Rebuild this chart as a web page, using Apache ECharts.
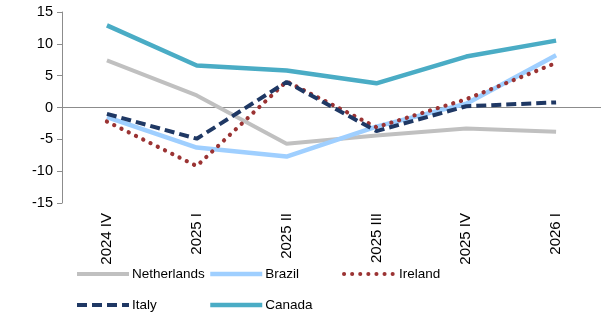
<!DOCTYPE html>
<html>
<head>
<meta charset="utf-8">
<script src="https://cdn.jsdelivr.net/npm/echarts@6/dist/echarts.min.js"></script>
<style>
  html, body { margin: 0; padding: 0; background: #fff; }
  #chart { width: 607px; height: 317px; }
</style>
</head>
<body>
<div id="chart"></div>
<script>
const quarters = ['2024 IV', '2025 I', '2025 II', '2025 III', '2025 IV', '2026 I']
const netherlands = [7.4, 1.9, -5.7, -4.4, -3.3, -3.8]
const brazil = [-1.5, -6.3, -7.7, -3.0, 0.6, 8.2]
const ireland = [-2.2, -9.2, 4.1, -3.1, 1.3, 7.0]
const italy = [-1.0, -4.9, 4.0, -3.7, 0.2, 0.8]
const canada = [12.9, 6.6, 5.8, 3.8, 8.0, 10.5]

const font = 'Liberation Sans, Arial, sans-serif'

const chart = echarts.init(document.getElementById('chart'))

// one legend per item so the columns line up like the original
const legendAt = (name, left, top, lineStyle) => ({
  data: [name],
  left: left,
  top: top,
  itemWidth: 52,
  itemHeight: 10,
  padding: 0,
  itemStyle: { opacity: 0 },
  lineStyle: lineStyle,
  textStyle: { fontFamily: font, fontSize: 13.5, color: '#000', padding: [0, 0, 0, -2] }
})

const line = (name, data, color, width, type, cap) => ({
  name: name,
  type: 'line',
  data: data,
  symbol: 'none',
  smooth: false,
  lineStyle: { color: color, width: width, type: type || 'solid', cap: cap || 'butt' },
  itemStyle: { color: color },
  z: 3
})

const option = {
  animation: false,
  grid: { left: 62, right: 6, top: 12, bottom: 114 },
  legend: [
    legendAt('Netherlands', 75, 267, { width: 4 }),
    legendAt('Brazil', 208, 267, { width: 4.5 }),
    legendAt('Ireland', 342, 267, { width: 4 }),
    legendAt('Italy', 75, 298, { width: 4 }),
    legendAt('Canada', 208, 298, { width: 4.5 })
  ],
  xAxis: {
    type: 'category',
    data: quarters,
    boundaryGap: true,
    axisLine: { show: false },
    axisTick: { show: false },
    axisLabel: {
      rotate: 90,
      margin: 10,
      fontFamily: font,
      fontSize: 15,
      color: '#000'
    }
  },
  yAxis: {
    type: 'value',
    min: -15,
    max: 15,
    interval: 5,
    axisLine: { show: true, lineStyle: { color: '#8c8c8c', width: 1 } },
    axisTick: { show: true, length: 5, lineStyle: { color: '#8c8c8c' } },
    splitLine: { show: false },
    axisLabel: { fontFamily: font, fontSize: 14.5, color: '#000', margin: 9 }
  },
  series: [
    Object.assign(line('Netherlands', netherlands, '#c0c0c0', 4), {
      markLine: {
        silent: true,
        symbol: 'none',
        label: { show: false },
        lineStyle: { color: '#8c8c8c', width: 1, type: 'solid' },
        data: [{ yAxis: 0 }],
        z: 1
      }
    }),
    line('Brazil', brazil, '#9fcfff', 4.5),
    line('Ireland', ireland, '#9b3333', 4.2, [0.1, 8], 'round'),
    line('Italy', italy, '#1f3864', 4, [10, 5]),
    line('Canada', canada, '#4aacc5', 4.5)
  ]
}

chart.setOption(option)
</script>
</body>
</html>
